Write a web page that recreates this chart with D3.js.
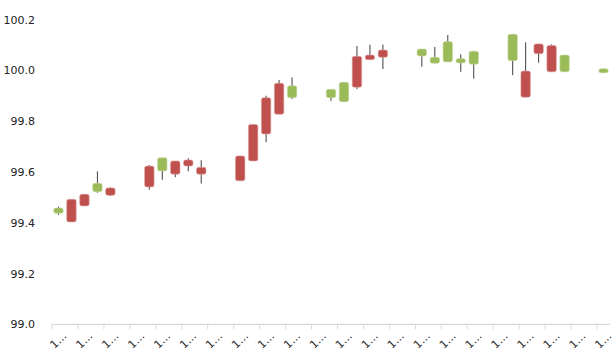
<!DOCTYPE html>
<html>
<head>
<meta charset="utf-8">
<script src="https://cdn.jsdelivr.net/npm/d3@7"></script>
<style>
  html, body { margin: 0; padding: 0; background: #fff; }
  svg { display: block; }
  .tick-label { font-family: "DejaVu Sans", sans-serif; font-size: 11px; fill: #222; }
</style>
</head>
<body>
<svg id="chart" width="616" height="352"></svg>
<script>
// Trading days (weekends leave empty slots on the date axis)
const days = d3.timeDay.range(new Date(2018, 9, 1), new Date(2018, 10, 13)).map(d3.timeFormat("%m/%d/%Y"));

// OHLC per day; null where no trading took place
const open  = [99.437, 99.492, 99.512, 99.522, 99.537, null, null,
               99.623, 99.604, 99.643, 99.647, 99.618, null, null,
               99.663, 99.787, 99.892, 99.949, 99.892, null, null,
               99.892, 99.876, 100.055, 100.060, 100.080, null, null,
               100.056, 100.028, 100.033, 100.029, 100.024, null, null,
               100.038, 99.997, 100.104, 100.098, 99.994, null, null,
               99.990];
const high  = [99.463, 99.492, 99.512, 99.602, 99.539, null, null,
               99.627, 99.656, 99.643, 99.654, 99.646, null, null,
               99.663, 99.787, 99.900, 99.962, 99.972, null, null,
               99.925, 99.953, 100.096, 100.101, 100.101, null, null,
               100.084, 100.092, 100.139, 100.063, 100.075, null, null,
               100.142, 100.110, 100.104, 100.102, 100.060, null, null,
               100.006];
const low   = [99.431, 99.403, 99.466, 99.518, 99.505, null, null,
               99.530, 99.569, 99.579, 99.602, 99.554, null, null,
               99.565, 99.643, 99.717, 99.827, 99.887, null, null,
               99.880, 99.876, 99.926, 100.042, 100.005, null, null,
               100.014, 100.028, 100.033, 99.994, 99.967, null, null,
               99.981, 99.894, 100.030, 99.994, 99.994, null, null,
               99.990];
const close = [99.458, 99.403, 99.466, 99.555, 99.508, null, null,
               99.541, 99.656, 99.591, 99.623, 99.591, null, null,
               99.565, 99.643, 99.749, 99.827, 99.939, null, null,
               99.925, 99.953, 99.933, 100.042, 100.051, null, null,
               100.084, 100.051, 100.113, 100.046, 100.075, null, null,
               100.142, 99.894, 100.065, 99.994, 100.060, null, null,
               100.006];

const yTicks = [99.0, 99.2, 99.4, 99.6, 99.8, 100.0, 100.2];

const upColor = "#9bbb59";
const downColor = "#c0504d";

const svg = d3.select("#chart");
const margin = { left: 52, right: 6, top: 19.5, bottom: 27.7 };
const W = 616, H = 352;

const x = d3.scaleBand().domain(days).range([margin.left, W - margin.right]).paddingInner(0).paddingOuter(0);
const y = d3.scaleLinear().domain([99.0, 100.2]).range([H - margin.bottom, margin.top]);

// Y axis labels only (no line, no gridlines)
const yAxis = d3.axisLeft(y).tickValues(yTicks).tickFormat(d3.format(".1f")).tickSize(0).tickPadding(17);
const gy = svg.append("g").attr("transform", `translate(${margin.left},0)`).call(yAxis);
gy.select(".domain").remove();
gy.selectAll("text").attr("class", "tick-label").attr("font-size", null).attr("font-family", null);

// X axis: line, tick marks every second day at slot boundaries
const y0 = y(99.0);
const gx = svg.append("g");
gx.append("line")
  .attr("x1", margin.left).attr("x2", W - margin.right)
  .attr("y1", y0).attr("y2", y0)
  .attr("stroke", "#d9d9d9").attr("stroke-width", 1.3);
const tickDays = days.filter((d, i) => i % 2 === 0);
gx.selectAll("line.tk").data(tickDays).join("line")
  .attr("class", "tk")
  .attr("x1", d => x(d)).attr("x2", d => x(d))
  .attr("y1", y0).attr("y2", y0 + 5)
  .attr("stroke", "#d9d9d9").attr("stroke-width", 1);
gx.selectAll("text").data(tickDays).join("text")
  .attr("class", "tick-label")
  .attr("text-anchor", "middle")
  .attr("dominant-baseline", "central")
  .attr("transform", d => `translate(${x(d) + x.bandwidth() / 2},${y0 + 16}) rotate(-45)`)
  .text(d => d.slice(0, 1) + "…");

// Candles
const candles = days.map((d, i) => ({ day: d, o: open[i], h: high[i], l: low[i], c: close[i] }))
  .filter(c => c.o !== null);
const bodyW = x.bandwidth() * 0.73;

const g = svg.append("g");
g.selectAll("line.wick").data(candles).join("line")
  .attr("class", "wick")
  .attr("x1", c => x(c.day) + x.bandwidth() / 2)
  .attr("x2", c => x(c.day) + x.bandwidth() / 2)
  .attr("y1", c => y(c.h)).attr("y2", c => y(c.l))
  .attr("stroke", "#3f3f3f").attr("stroke-width", 1);

g.selectAll("rect.body").data(candles).join("rect")
  .attr("class", "body")
  .attr("x", c => x(c.day) + (x.bandwidth() - bodyW) / 2)
  .attr("width", bodyW)
  .attr("y", c => y(Math.max(c.o, c.c)))
  .attr("height", c => Math.max(1, Math.abs(y(c.o) - y(c.c))))
  .attr("rx", 2).attr("ry", 2)
  .attr("fill", c => c.c >= c.o ? upColor : downColor)
  .attr("stroke", c => c.c >= c.o ? "#c9dca6" : "#dea4a2")
  .attr("stroke-width", 0.6);
</script>
</body>
</html>
